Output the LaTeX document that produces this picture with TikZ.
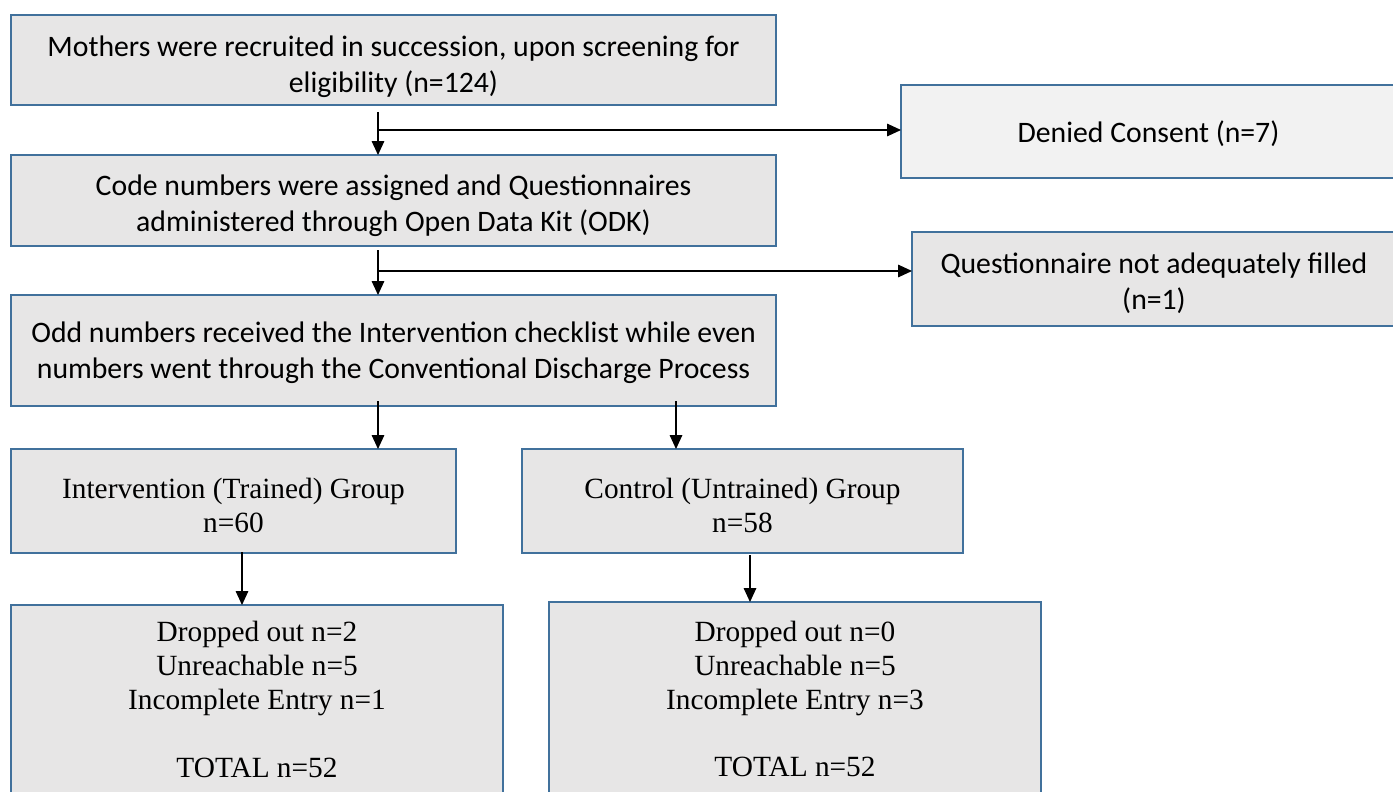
\documentclass[tikz,border=0pt]{standalone}
\usepackage{fontspec}
\setmainfont{Liberation Serif}
\newfontfamily\carl{Carlito}
\usetikzlibrary{arrows.meta}
\definecolor{bordc}{HTML}{41719C}
\definecolor{fillc}{HTML}{E7E6E6}
\definecolor{filllt}{HTML}{F2F2F2}
\tikzset{
  boxbase/.style={draw=bordc, line width=1.5pt, fill=fillc, rectangle, inner sep=0pt, outer sep=0pt},
  sansbox/.style={boxbase},
  serifbox/.style={boxbase},
  sanstxt/.style={align=center, inner sep=0pt, font=\carl\fontsize{22.3}{26.8}\selectfont},
  seriftxt/.style={align=center, inner sep=0pt, font=\fontsize{22}{25.5}\selectfont},
  arr/.style={draw=black, line width=0.8pt, -{Triangle[length=10.5pt,width=9.5pt]}},
}
% name, x1, y1, x2, y2, box style, text style, text shift (px), text
\newcommand\pbox[9]{%
  \node[#6, minimum width={(#4-#2)*0.75pt}, minimum height={(#5-#3)*0.75pt}]
    (#1) at ({(#2+#4)/2},{(#3+#5)/2}) {};
  \node[#7, yshift={-(#8)*0.75pt}] (#1-t) at (#1.center) {#9};}
\begin{document}
\begin{tikzpicture}[x=0.75pt,y=-0.75pt]
\useasboundingbox (0,0) rectangle (1393,792);
\pbox{b1}{11}{15}{776}{105}{sansbox}{sanstxt}{7}{Mothers were recruited in succession, upon screening for\\eligibility (n=124)}
\pbox{b2}{11}{155}{776}{246}{sansbox}{sanstxt}{5}{Code numbers were assigned and Questionnaires\\administered through Open Data Kit (ODK)}
\pbox{b3}{11}{295}{776}{406}{sansbox}{sanstxt}{2}{Odd numbers received the Intervention checklist while even\\numbers went through the Conventional Discharge Process}
\pbox{dc}{901}{85}{1396}{178}{sansbox, fill=filllt}{sanstxt}{2}{Denied Consent (n=7)}
\pbox{qn}{912}{232}{1396}{326}{sansbox}{sanstxt}{4}{Questionnaire not adequately filled\\(n=1)}
\pbox{ig}{11}{449}{456}{553}{serifbox}{seriftxt}{4}{Intervention (Trained) Group\\n=60}
\pbox{cg}{522}{449}{963}{553}{serifbox}{seriftxt}{4}{Control (Untrained) Group\\n=58}
\pbox{bl}{11}{605}{503}{794}{serifbox}{seriftxt}{0}{Dropped out n=2\\Unreachable n=5\\Incomplete Entry n=1\\[25pt]TOTAL n=52}
\pbox{br}{549}{602}{1041}{794}{serifbox}{seriftxt}{1}{Dropped out n=0\\Unreachable n=5\\Incomplete Entry n=3\\[25pt]TOTAL n=52}
% connectors
\coordinate (s1) at (378,112);
\coordinate (j1) at (378,130);
\draw[arr] (s1) -- (s1 |- b2.north);
\draw[arr] (j1) -- (j1 -| dc.west);
\coordinate (s2) at (378,250);
\coordinate (j2) at (378,271);
\draw[arr] (s2) -- (s2 |- b3.north);
\draw[arr] (j2) -- (j2 -| qn.west);
\coordinate (s3) at (378,401);
\coordinate (s4) at (676,401);
\draw[arr] (s3) -- (s3 |- ig.north);
\draw[arr] (s4) -- (s4 |- cg.north);
\coordinate (s5) at (242,552);
\coordinate (s6) at (750,555);
\draw[arr] (s5) -- (s5 |- bl.north);
\draw[arr] (s6) -- (s6 |- br.north);
\end{tikzpicture}
\end{document}
